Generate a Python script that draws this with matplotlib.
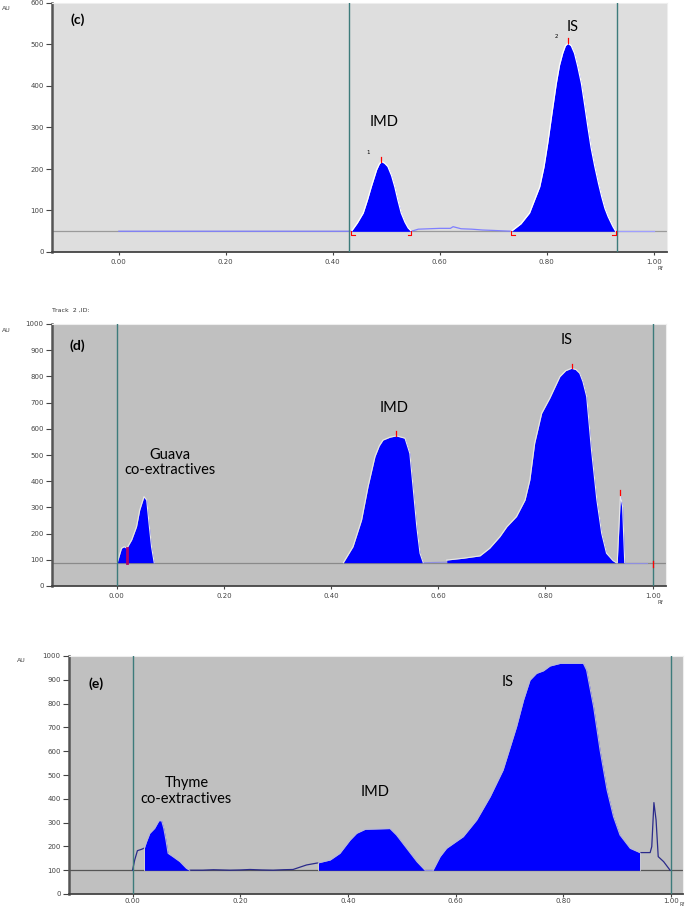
import matplotlib
matplotlib.use("Agg")
import matplotlib.pyplot as plt

# ---------------- data (Rf, AU) ----------------
# Panel (c)
c_baseline = 50
c_imd_rf = [0.435, 0.446, 0.457, 0.465, 0.472, 0.482, 0.487, 0.491, 0.497, 0.503, 0.510, 0.516, 0.522, 0.528, 0.535, 0.541, 0.547]
c_imd_au = [50, 70, 94, 126, 157, 198, 212, 218, 214, 206, 184, 157, 124, 94, 72, 58, 50]
c_mid_rf = [0.00, 0.435, 0.547, 0.56, 0.58, 0.60, 0.62, 0.625, 0.64, 0.66, 0.68, 0.70, 0.734]
c_mid_au = [50, 50, 50, 55, 56, 57, 57, 61, 56, 55, 53, 52, 50]
c_is_rf = [0.734, 0.752, 0.768, 0.787, 0.795, 0.802, 0.810, 0.818, 0.824, 0.830, 0.835, 0.840, 0.846,
           0.852, 0.858, 0.865, 0.871, 0.877, 0.883, 0.890, 0.897, 0.903, 0.909, 0.915, 0.924, 0.929]
c_is_au = [50, 68, 94, 157, 205, 262, 335, 406, 450, 479, 497, 503, 497,
           479, 448, 406, 355, 302, 252, 206, 165, 133, 105, 85, 61, 50]
c_tail_rf = [0.929, 0.94, 1.00]
c_tail_au = [50, 50, 50]
c_marks = [0.431, 0.931]

# Panel (d)
d_baseline = 89
d_guava_rf = [0.001, 0.009, 0.014, 0.019, 0.028, 0.037, 0.043, 0.051, 0.056, 0.061, 0.065, 0.070]
d_guava_au = [89, 144, 150, 144, 176, 226, 290, 341, 328, 226, 150, 89]
d_imd_rf = [0.423, 0.441, 0.457, 0.469, 0.482, 0.490, 0.497, 0.510, 0.522, 0.538, 0.547, 0.553, 0.560, 0.566, 0.572]
d_imd_au = [89, 150, 252, 379, 494, 535, 557, 568, 573, 564, 506, 379, 226, 125, 89]
d_is_rf = [0.616, 0.647, 0.678, 0.696, 0.715, 0.728, 0.746, 0.762, 0.771, 0.780, 0.793, 0.808,
           0.827, 0.838, 0.849, 0.857, 0.864, 0.870, 0.877, 0.886, 0.896, 0.905, 0.914, 0.926, 0.932]
d_is_au = [99, 106, 115, 144, 188, 226, 265, 328, 405, 545, 659, 716,
           799, 822, 831, 826, 812, 780, 723, 519, 328, 201, 125, 97, 89]
d_small_rf = [0.934, 0.940, 0.944, 0.948]
d_small_au = [89, 347, 303, 89]
d_marks = [0.0, 1.0]

# Panel (e)
e_baseline = 100
e_lead_rf = [0.000, 0.004, 0.009, 0.017, 0.022]
e_lead_au = [100, 143, 182, 188, 193]
e_thyme_rf = [0.022, 0.026, 0.032, 0.041, 0.049, 0.054, 0.058, 0.062, 0.066, 0.075, 0.088, 0.100, 0.106]
e_thyme_au = [193, 220, 255, 276, 308, 308, 276, 227, 171, 157, 136, 108, 100]
e_gap_rf = [0.106, 0.130, 0.150, 0.181, 0.200, 0.218, 0.240, 0.261, 0.280, 0.298, 0.323, 0.345]
e_gap_au = [100, 100, 102, 100, 101, 103, 101, 100, 102, 103, 122, 131]
e_imd_rf = [0.345, 0.367, 0.385, 0.404, 0.416, 0.432, 0.478, 0.490, 0.509, 0.528, 0.543]
e_imd_au = [131, 143, 171, 227, 255, 272, 275, 248, 192, 136, 100]
e_is_rf = [0.558, 0.571, 0.583, 0.614, 0.639, 0.664, 0.688, 0.713, 0.726, 0.738, 0.750, 0.763,
           0.775, 0.794, 0.837, 0.843, 0.856, 0.868, 0.881, 0.893, 0.905, 0.924, 0.942]
e_is_au = [100, 157, 192, 241, 311, 409, 521, 703, 815, 899, 927, 938,
           958, 969, 969, 941, 787, 605, 437, 325, 248, 192, 174]
e_tail_rf = [0.942, 0.961, 0.964, 0.968, 0.972, 0.976, 0.986, 0.998]
e_tail_au = [174, 174, 199, 384, 311, 157, 136, 100]
e_marks = [0.0, 1.0]

x_ticks = [0.0, 0.2, 0.4, 0.6, 0.8, 1.0]
x_ticklabels = ["0.00", "0.20", "0.40", "0.60", "0.80", "1.00"]
c_yticks = [0, 100, 200, 300, 400, 500, 600]
de_yticks = [0, 100, 200, 300, 400, 500, 600, 700, 800, 900, 1000]

# ---------------- styling ----------------
BLUE = "#0000ff"
VLINE = "#3d7b7b"
TICKC = "#444444"
LBL_FONT = ["Lato", "DejaVu Sans"]

fig = plt.figure(figsize=(6.85, 9.07), dpi=100)
W, H = 685.0, 907.0


def make_ax(px_left, px_top, px_right, px_bottom, xlim, ylim, yticks, bg, xpad=3):
    ax = fig.add_axes([px_left / W, 1 - px_bottom / H, (px_right - px_left) / W,
                       (px_bottom - px_top) / H])
    ax.set_facecolor(bg)
    ax.set_xlim(*xlim)
    ax.set_ylim(*ylim)
    ax.set_xticks(x_ticks)
    ax.set_xticklabels(x_ticklabels)
    ax.set_yticks(yticks)
    ax.set_yticklabels([str(v) for v in yticks])
    ax.tick_params(axis="both", labelsize=5, colors=TICKC, length=4, width=0.8, pad=2)
    ax.tick_params(axis="x", length=2, pad=xpad)
    for s in ("top", "right"):
        ax.spines[s].set_color("#eeeeee")
        ax.spines[s].set_linewidth(0.8)
    ax.spines["left"].set_color("#555555")
    ax.spines["left"].set_linewidth(1.8)
    ax.spines["bottom"].set_color("#444444")
    ax.spines["bottom"].set_linewidth(1.3)
    return ax


# ---------- Panel (c) ----------
axc = make_ax(52, 3, 667, 252, (-0.125, 1.025), (0, 600), c_yticks, "#dedede")
axc.axhline(c_baseline, color="#9a9a9a", lw=0.9, zorder=1)
axc.plot(c_mid_rf, c_mid_au, color="#7f7fff", lw=0.9, zorder=2)
axc.plot(c_tail_rf, c_tail_au, color="#9f9fff", lw=0.9, zorder=2)
for rf, au in ((c_imd_rf, c_imd_au), (c_is_rf, c_is_au)):
    axc.fill_between(rf, c_baseline, au, color=BLUE, lw=0, zorder=3)
    axc.plot(rf, au, color="white", lw=0.9, zorder=4)
for xm in c_marks:
    axc.axvline(xm, color=VLINE, lw=1.0, zorder=5)
# red integration marks
for rf, au in ((c_imd_rf, c_imd_au), (c_is_rf, c_is_au)):
    i = au.index(max(au))
    axc.plot([rf[i], rf[i]], [au[i], au[i] + 12], color="red", lw=0.9, zorder=6)
    axc.plot([rf[0], rf[0], rf[0] + 0.006], [c_baseline, c_baseline - 10, c_baseline - 10],
             color="red", lw=0.8, zorder=6)
    axc.plot([rf[-1] - 0.006, rf[-1], rf[-1]], [c_baseline - 10, c_baseline - 10, c_baseline],
             color="red", lw=0.8, zorder=6)
axc.text(-0.077, 559, "(c)", fontsize=10, fontweight="bold", family=LBL_FONT,
         ha="center", va="center")
axc.text(0.496, 314, "IMD", fontsize=10.5, family=LBL_FONT, ha="center", va="center")
axc.text(0.848, 542, "IS", fontsize=10.5, family=LBL_FONT, ha="center", va="center")
axc.text(0.466, 239, "1", fontsize=4, ha="center", va="center")
axc.text(0.818, 520, "2", fontsize=4, ha="center", va="center")

# ---------- Panel (d) ----------
axd = make_ax(52, 324, 666, 586, (-0.1207, 1.025), (0, 1000), de_yticks, "#c0c0c0")
axd.axhline(d_baseline, color="#8a8a8a", lw=0.9, zorder=1)
axd.plot([0.572, 0.616], [d_baseline, d_baseline + 2], color="#8f8fe0", lw=0.8, zorder=2)
axd.plot([0.948, 0.99], [d_baseline, d_baseline], color="#8f8fe0", lw=0.8, zorder=2)
for rf, au in ((d_guava_rf, d_guava_au), (d_imd_rf, d_imd_au),
               (d_is_rf, d_is_au), (d_small_rf, d_small_au)):
    axd.fill_between(rf, d_baseline, au, color=BLUE, lw=0, zorder=3)
    axd.plot(rf, au, color="#e8e8e8", lw=0.8, zorder=4)
for xm in d_marks:
    axd.axvline(xm, color=VLINE, lw=1.0, zorder=5)
for rf, au in ((d_imd_rf, d_imd_au), (d_is_rf, d_is_au), (d_small_rf, d_small_au)):
    i = au.index(max(au))
    axd.plot([rf[i], rf[i]], [au[i], au[i] + 18], color="red", lw=0.9, zorder=6)
axd.plot([0.019, 0.019], [d_baseline, 144], color="#b0006a", lw=2.0, zorder=6)
axd.plot([1.0, 1.0], [d_baseline - 15, d_baseline + 5], color="red", lw=0.9, zorder=6)
axd.text(-0.073, 916, "(d)", fontsize=10, fontweight="bold", family=LBL_FONT,
         ha="center", va="center")
axd.text(0.100, 471, "Guava\nco-extractives", fontsize=10.5, family=LBL_FONT,
         ha="center", va="center", linespacing=1.15)
axd.text(0.517, 681, "IMD", fontsize=10.5, family=LBL_FONT, ha="center", va="center")
axd.text(0.839, 939, "IS", fontsize=10.5, family=LBL_FONT, ha="center", va="center")

# ---------- Panel (e) ----------
axe = make_ax(69, 656, 683, 894, (-0.118, 1.022), (0, 1000), de_yticks, "#c0c0c0", xpad=1)
axe.axhline(e_baseline, color="#555555", lw=0.9, zorder=1)
for rf, au in ((e_lead_rf, e_lead_au), (e_gap_rf, e_gap_au), (e_tail_rf, e_tail_au)):
    axe.plot(rf, au, color="#2a2a8a", lw=0.9, zorder=2)
axe.plot([0.543, 0.558], [e_baseline, e_baseline], color="#8f8fe0", lw=0.8, zorder=2)
for rf, au in ((e_thyme_rf, e_thyme_au), (e_imd_rf, e_imd_au), (e_is_rf, e_is_au)):
    axe.fill_between(rf, e_baseline, au, color=BLUE, lw=0, zorder=3)
    axe.plot(rf, au, color="#b8b8d8", lw=0.8, zorder=4)
    axe.plot([rf[0], rf[0]], [e_baseline, au[0]], color="#d8d8d8", lw=0.6, zorder=4)
    axe.plot([rf[-1], rf[-1]], [e_baseline, au[-1]], color="#d8d8d8", lw=0.6, zorder=4)
for xm in e_marks:
    axe.axvline(xm, color=VLINE, lw=1.0, zorder=5)
axe.text(-0.068, 882, "(e)", fontsize=10, fontweight="bold", family=LBL_FONT,
         ha="center", va="center")
axe.text(0.10, 433, "Thyme\nco-extractives", fontsize=10.5, family=LBL_FONT,
         ha="center", va="center", linespacing=1.15)
axe.text(0.450, 428, "IMD", fontsize=10.5, family=LBL_FONT, ha="center", va="center")
axe.text(0.696, 889, "IS", fontsize=10.5, family=LBL_FONT, ha="center", va="center")

# ---------- figure-level small labels ----------
def ftext(px, py, s, **kw):
    fig.text(px / W, 1 - py / H, s, **kw)

ftext(2, 9, "AU", fontsize=4.5, color=TICKC, va="center")
ftext(658, 268, "Rf", fontsize=4, color=TICKC, va="center")
ftext(52, 310, "Track  2 ,ID:", fontsize=4.5, color="#333333", va="center")
ftext(2, 330, "AU", fontsize=4.5, color=TICKC, va="center")
ftext(658, 603, "Rf", fontsize=4, color=TICKC, va="center")
ftext(17, 661, "AU", fontsize=4.5, color=TICKC, va="center")
ftext(679, 904, "Rf", fontsize=3.5, color=TICKC, va="center")

fig.savefig("out.png", dpi=100, facecolor="white")
